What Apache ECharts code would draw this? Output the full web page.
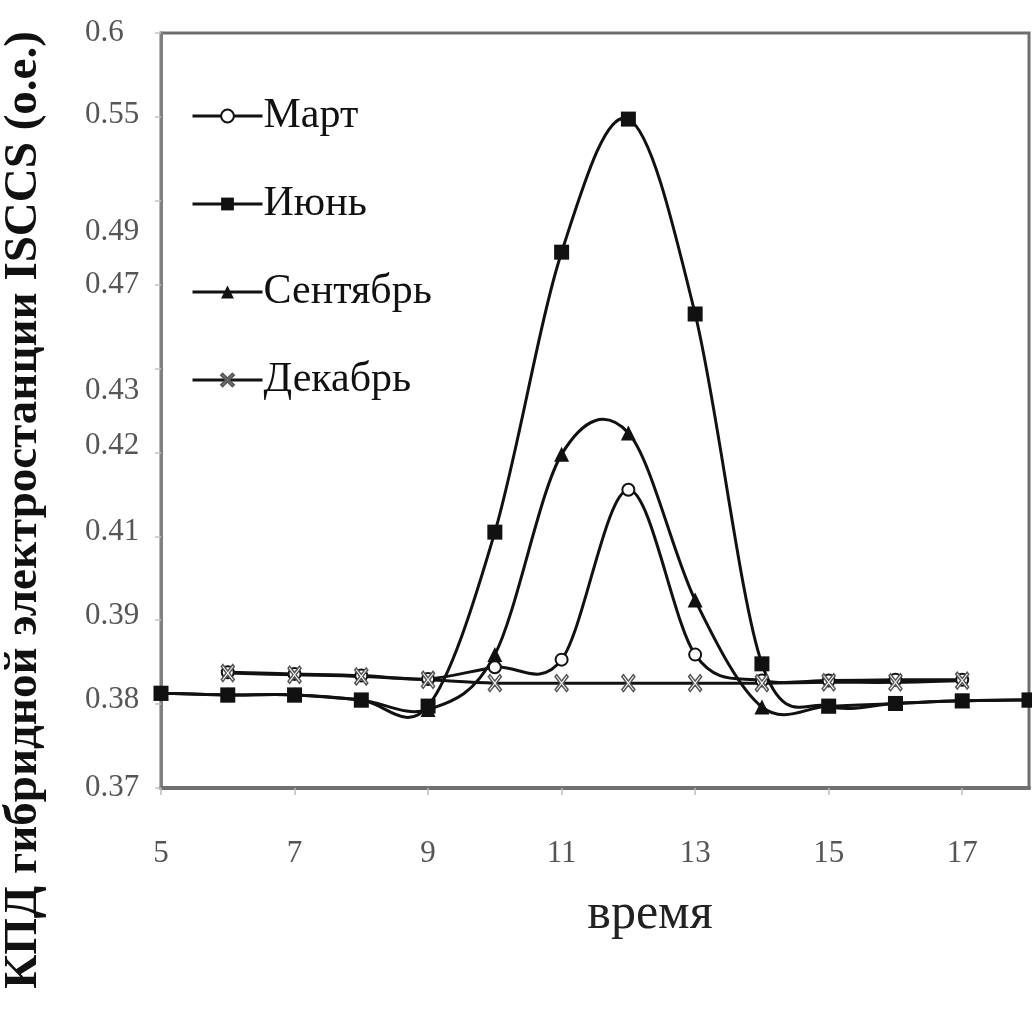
<!DOCTYPE html>
<html>
<head>
<meta charset="utf-8">
<script src="https://cdn.jsdelivr.net/npm/echarts@6/dist/echarts.min.js"></script>
<style>
  html, body { margin: 0; padding: 0; background: #ffffff; }
  #chart { width: 1032px; height: 1012px; }
</style>
</head>
<body>
<div id="chart"></div>
<script>
// ---------- data ----------
const seriesNames = ['Март', 'Июнь', 'Сентябрь', 'Декабрь'];
const hoursLong = [5, 6, 7, 8, 9, 10, 11, 12, 13, 14, 15, 16, 17, 18];
const hoursShort = [6, 7, 8, 9, 10, 11, 12, 13, 14, 15, 16, 17];
const martValues = [0.3833, 0.3831, 0.3829, 0.3825, 0.3839, 0.3848, 0.4149, 0.3854, 0.3823, 0.3823, 0.3824, 0.3824];
const iyunValues = [0.3808, 0.3806, 0.3806, 0.3800, 0.3793, 0.4100, 0.4823, 0.5480, 0.4589, 0.3843, 0.3793, 0.3796, 0.3799, 0.3800];
const sentValues = [0.3808, 0.3806, 0.3806, 0.3800, 0.3789, 0.3854, 0.4190, 0.4223, 0.3938, 0.3792, 0.3793, 0.3796, 0.3799, 0.3800];
const dekValues  = [0.3832, 0.3830, 0.3828, 0.3824, 0.3820, 0.3820, 0.3820, 0.3820, 0.3820, 0.3821, 0.3821, 0.3823];
const xTickLabels = [5, 7, 9, 11, 13, 15, 17];
const yTickLabels = ['0.37', '0.38', '0.39', '0.41', '0.42', '0.43', '0.47', '0.49', '0.55', '0.6'];
const yTickValues = [0.37, 0.38, 0.39, 0.41, 0.42, 0.43, 0.47, 0.49, 0.55, 0.60];
const xTitle = 'время';
const yTitle = 'КПД гибридной электростанции ISCCS (о.е.)';

// ---------- axis configuration (the printed y axis is not linear) ----------
// where each printed y label sits along the axis, in tick units (0 = bottom, 9 = top)
const yAxisLevels = [0, 1.05, 2.05, 3.05, 4.08, 4.74, 6.0, 6.63, 8.02, 9];

function warp(v) {
  for (let i = 0; i < yTickValues.length - 1; i++) {
    const a = yTickValues[i], b = yTickValues[i + 1];
    if (v <= b || i === yTickValues.length - 2) {
      const t = (v - a) / (b - a);
      return yAxisLevels[i] + t * (yAxisLevels[i + 1] - yAxisLevels[i]);
    }
  }
}
function labelForLevel(level) {
  let best = 0, bd = Infinity;
  yAxisLevels.forEach((l, i) => { const d = Math.abs(l - level); if (d < bd) { bd = d; best = i; } });
  return yTickLabels[best];
}
const toPairs = (hours, vals) => hours.map((h, i) => [h, warp(vals[i])]);

const serif = '"Liberation Serif", "DejaVu Serif", serif';
const xMarker = 'path://M0,1.2 L1.2,0 L5,3.8 L8.8,0 L10,1.2 L6.2,5 L10,8.8 L8.8,10 L5,6.2 L1.2,10 L0,8.8 L3.8,5 Z';

const seriesData = {
  'Март': toPairs(hoursShort, martValues),
  'Июнь': toPairs(hoursLong, iyunValues),
  'Сентябрь': toPairs(hoursLong, sentValues),
  'Декабрь': toPairs(hoursShort, dekValues)
};

// spreadsheet-style smoothed curve (Catmull-Rom through the points), drawn via the axes' own coords
function smoothCurve(name) {
  const pts = seriesData[name];
  return {
    name: name + ' ', type: 'custom', z: 2, silent: true,
    data: pts,
    encode: { x: 0, y: 1 },
    renderItem: function (params, api) {
      const i = params.dataIndex;
      if (i >= pts.length - 1) return null;
      const c = (k) => api.coord(pts[Math.max(0, Math.min(pts.length - 1, k))]);
      const p0 = c(i - 1), p1 = c(i), p2 = c(i + 1), p3 = c(i + 2);
      return {
        type: 'bezierCurve',
        shape: {
          x1: p1[0], y1: p1[1], x2: p2[0], y2: p2[1],
          cpx1: p1[0] + (p2[0] - p0[0]) / 6, cpy1: p1[1] + (p2[1] - p0[1]) / 6,
          cpx2: p2[0] - (p3[0] - p1[0]) / 6, cpy2: p2[1] - (p3[1] - p1[1]) / 6
        },
        style: { fill: null, stroke: '#111111', lineWidth: 3 }
      };
    }
  };
}

function markerSeries(name, symbol, size, itemStyle, z) {
  return {
    name: name, type: 'line', z: z,
    data: seriesData[name],
    symbol: symbol, symbolSize: size,
    lineStyle: { color: '#111111', width: 3, opacity: 0 },
    itemStyle: itemStyle
  };
}

const legendLine = { color: '#111111', width: 3, opacity: 1 };

const chart = echarts.init(document.getElementById('chart'), null, { renderer: 'canvas' });
chart.setOption({
  backgroundColor: '#ffffff',
  animation: false,
  grid: {
    left: 161, right: 3, top: 33, bottom: 224,
    show: true, borderColor: '#6e6e6e', borderWidth: 3, backgroundColor: 'transparent'
  },
  legend: {
    orient: 'vertical',
    left: 186, top: 90,
    itemWidth: 70, itemHeight: 16, itemGap: 46,
    data: seriesNames.map((n) => ({ name: n, lineStyle: legendLine })),
    textStyle: { fontFamily: serif, fontSize: 42, color: '#111111', padding: [0, 0, 0, -4] }
  },
  xAxis: {
    type: 'value',
    min: 5, max: 18,
    splitLine: { show: false },
    axisLine: { show: true, onZero: false, lineStyle: { color: '#707070', width: 4 } },
    axisTick: { show: true, length: 7, customValues: xTickLabels, lineStyle: { color: '#bdbdbd', width: 1.5 } },
    axisLabel: {
      customValues: xTickLabels,
      margin: 50,
      fontFamily: serif, fontSize: 31, color: '#555555'
    }
  },
  yAxis: {
    type: 'value',
    min: 0, max: 9, interval: 1,
    splitLine: { show: false },
    axisLine: { show: true, onZero: false, lineStyle: { color: '#808080', width: 3 } },
    axisTick: { show: true, length: 6, lineStyle: { color: '#c4c4c4', width: 1.5 } },
    axisLabel: {
      customValues: yAxisLevels,
      formatter: (v) => labelForLevel(v),
      align: 'left',
      margin: 76,
      fontFamily: serif, fontSize: 31, color: '#555555'
    }
  },
  graphic: [
    {
      type: 'text', x: 24, y: 510, rotation: Math.PI / 2,
      style: {
        text: yTitle, fontFamily: serif, fontWeight: 'bold', fontSize: 47,
        fill: '#111111', align: 'center', verticalAlign: 'middle'
      }
    },
    {
      type: 'text', x: 650, y: 915,
      style: {
        text: xTitle, fontFamily: serif, fontSize: 50,
        fill: '#222222', align: 'center', verticalAlign: 'middle'
      }
    }
  ],
  series: [
    smoothCurve('Март'),
    smoothCurve('Июнь'),
    smoothCurve('Сентябрь'),
    smoothCurve('Декабрь'),
    markerSeries('Март', 'circle', 12, { color: '#ffffff', borderColor: '#111111', borderWidth: 2 }, 5),
    markerSeries('Июнь', 'rect', 15, { color: '#111111', borderWidth: 0 }, 4),
    markerSeries('Сентябрь', 'triangle', 15, { color: '#111111', borderWidth: 0 }, 4),
    markerSeries('Декабрь', xMarker, [13, 17], { color: '#ffffff', borderColor: '#555555', borderWidth: 1.5 }, 6)
  ]
});
</script>
</body>
</html>
